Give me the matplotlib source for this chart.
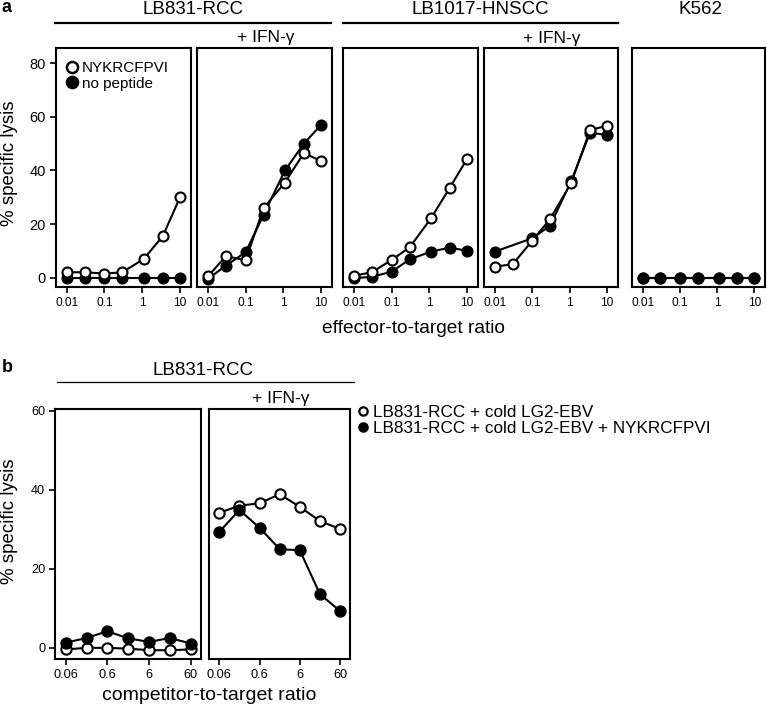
import numpy as np
import matplotlib
matplotlib.use('Agg')
import matplotlib.pyplot as plt
from matplotlib.lines import Line2D

plt.rcParams['font.family'] = ['Liberation Sans', 'DejaVu Sans']

# ---------------- data: panel a ----------------
et_ratio = [0.01, 0.03, 0.1, 0.3, 1.1, 3.5, 10]
et_ticks = [0.01, 0.1, 1, 10]
et_ticklabels = ['0.01', '0.1', '1', '10']

rcc_open = [2.0, 2.0, 1.5, 2.0, 7.0, 15.5, 30.0]
rcc_filled = [0.0, 0.0, 0.0, 0.0, 0.0, 0.0, 0.0]
rcc_ifn_open = [0.5, 8.0, 6.5, 26.0, 35.5, 46.5, 43.5]
rcc_ifn_filled = [-0.5, 4.5, 9.5, 23.5, 40.0, 50.0, 57.0]
hnscc_open = [0.7, 2.0, 6.6, 11.3, 22.1, 33.6, 44.3]
hnscc_filled = [-0.2, 0.3, 2.2, 6.8, 9.7, 11.2, 10.0]
hnscc_ifn_open = [4.1, 5.0, 13.8, 21.9, 35.4, 55.1, 56.7]
hnscc_ifn_filled = [9.7, np.nan, 14.7, 19.4, 36.1, 54.1, 53.2]
k562_open = [0.0, 0.0, 0.0, 0.0, 0.0, 0.0, 0.0]
k562_filled = [0.0, 0.0, 0.0, 0.0, 0.0, 0.0, 0.0]

a_yticks = [0, 20, 40, 60, 80]
a_labels = ['NYKRCFPVI', 'no peptide']

# ---------------- data: panel b ----------------
ct_ratio = [0.06, 0.19, 0.6, 1.9, 6, 19, 60]
ct_ticks = [0.06, 0.6, 6, 60]
ct_ticklabels = ['0.06', '0.6', '6', '60']
b_open = [-0.4, 0.0, 0.0, -0.2, -0.6, -0.6, -0.4]
b_filled = [1.3, 2.5, 4.2, 2.4, 1.5, 2.5, 1.1]
b_ifn_open = [34.2, 36.0, 36.6, 38.9, 35.7, 32.1, 30.1]
b_ifn_filled = [29.4, 34.9, 30.4, 25.0, 24.7, 13.6, 9.3]
b_yticks = [0, 20, 40, 60]
b_labels = ['LB831-RCC + cold LG2-EBV', 'LB831-RCC + cold LG2-EBV + NYKRCFPVI']

W, H = 767, 709
fig = plt.figure(figsize=(W / 100, H / 100), dpi=100)


def ax_px(x0, x1, y0, y1):
    return fig.add_axes([x0 / W, 1 - y1 / H, (x1 - x0) / W, (y1 - y0) / H])


def fx(x):
    return x / W


def fy(y):
    return 1 - y / H


LW = 1.5
MS_A = 7.2
MS_B = 7.4


def draw_series(ax, x, y, filled, ms, z):
    x = np.asarray(x, float)
    y = np.asarray(y, float)
    m = ~np.isnan(y)
    ax.plot(x[m], y[m], '-o', color='black', lw=LW, ms=ms,
            mfc='black' if filled else 'white', mec='black', mew=1.5,
            zorder=z, clip_on=False)


def style_axes(ax, ylim, xlim, xticks, xticklabels, yticks, show_y,
               xtick_fs, ytick_fs):
    ax.set_xscale('log')
    ax.set_xlim(*xlim)
    ax.set_ylim(*ylim)
    ax.set_xticks(xticks)
    ax.set_xticklabels(xticklabels, fontsize=xtick_fs)
    ax.xaxis.set_minor_locator(matplotlib.ticker.NullLocator())
    ax.tick_params(axis='x', direction='out', length=4, width=1.2, pad=3)
    if show_y:
        ax.set_yticks(yticks)
        ax.set_yticklabels([str(v) for v in yticks], fontsize=ytick_fs)
        ax.tick_params(axis='y', direction='out', length=4, width=1.2, pad=3)
    else:
        ax.set_yticks([])
    for s in ax.spines.values():
        s.set_linewidth(1.5)


# ---------------- panel a ----------------
a_boxes = [(55.7, 191), (197, 332), (343, 478), (484, 618), (632, 765)]
a_top, a_bot = 48, 287
a_ylim = (-3.5, 85.7)
a_xlim = (10 ** -2.29, 10 ** 1.29)
a_data = [(rcc_open, rcc_filled), (rcc_ifn_open, rcc_ifn_filled),
          (hnscc_open, hnscc_filled), (hnscc_ifn_open, hnscc_ifn_filled),
          (k562_open, k562_filled)]
a_axes = []
for i, ((x0, x1), (yo, yf)) in enumerate(zip(a_boxes, a_data)):
    ax = ax_px(x0, x1, a_top, a_bot)
    if i == 4:
        draw_series(ax, et_ratio, yo, False, MS_A, 3)
        draw_series(ax, et_ratio, yf, True, MS_A, 4)
    else:
        draw_series(ax, et_ratio, yf, True, MS_A, 3)
        draw_series(ax, et_ratio, yo, False, MS_A, 4)
    style_axes(ax, a_ylim, a_xlim, et_ticks, et_ticklabels, a_yticks,
               i == 0, 8.6, 10.5)
    a_axes.append(ax)

h_a = [Line2D([], [], ls='none', marker='o', ms=8, mfc='white', mec='black', mew=1.8),
       Line2D([], [], ls='none', marker='o', ms=8, mfc='black', mec='black', mew=1.8)]
a_axes[0].legend(h_a, a_labels, loc='upper left', frameon=False, fontsize=11,
                 handlelength=0.6, handletextpad=0.35, labelspacing=0.1,
                 borderaxespad=0, bbox_to_anchor=(0.04, 0.97))

# headers a
fig.text(fx(193), fy(10), 'LB831-RCC', ha='center', va='center', fontsize=13.5)
fig.text(fx(480), fy(10), 'LB1017-HNSCC', ha='center', va='center', fontsize=13.5)
fig.text(fx(700), fy(10), 'K562', ha='center', va='center', fontsize=13.5)
fig.add_artist(Line2D([fx(55), fx(331)], [fy(23.3), fy(23.3)], color='black', lw=1.6))
fig.add_artist(Line2D([fx(343), fx(618)], [fy(23.3), fy(23.3)], color='black', lw=1.6))
fig.text(fx(266), fy(37.5), '+ IFN-γ', ha='center', va='center', fontsize=12.5)
fig.text(fx(552), fy(38), '+ IFN-γ', ha='center', va='center', fontsize=12.5)
fig.text(fx(413), fy(333), 'effector-to-target ratio', ha='center', va='baseline',
         fontsize=13.8)
fig.text(fx(10), fy(163), '% specific lysis', ha='center', va='center',
         rotation=90, fontsize=13.5)
fig.text(fx(2), fy(8), 'a', ha='left', va='center', fontsize=13, fontweight='bold')

# ---------------- panel b ----------------
b_boxes = [(55, 201), (209, 350)]
b_top, b_bot = 409.3, 659.3
b_ylim = (-2.9, 60.4)
b_xlim = (10 ** -1.478, 10 ** 2.025)
b_data = [(b_open, b_filled), (b_ifn_open, b_ifn_filled)]
b_axes = []
for i, ((x0, x1), (yo, yf)) in enumerate(zip(b_boxes, b_data)):
    ax = ax_px(x0, x1, b_top, b_bot)
    draw_series(ax, ct_ratio, yo, False, MS_B, 3)
    draw_series(ax, ct_ratio, yf, True, MS_B, 4)
    style_axes(ax, b_ylim, b_xlim, ct_ticks, ct_ticklabels, b_yticks,
               i == 0, 9.2, 9.2)
    b_axes.append(ax)

h_b = [Line2D([], [], ls='none', marker='o', ms=6, mfc='white', mec='black', mew=1.6),
       Line2D([], [], ls='none', marker='o', ms=6, mfc='black', mec='black', mew=1.6)]
fig.legend(h_b, b_labels, loc='upper left', frameon=False, fontsize=12.3,
           handlelength=0.5, handletextpad=0.3, labelspacing=0.05,
           borderaxespad=0, borderpad=0,
           bbox_to_anchor=(fx(359), fy(405)))

fig.text(fx(203), fy(370.5), 'LB831-RCC', ha='center', va='center', fontsize=13.5)
fig.add_artist(Line2D([fx(57), fx(354)], [fy(381.7), fy(381.7)], color='black', lw=0.9))
fig.text(fx(281), fy(398), '+ IFN-γ', ha='center', va='center', fontsize=12.5)
fig.text(fx(209), fy(700), 'competitor-to-target ratio', ha='center', va='baseline',
         fontsize=14)
fig.text(fx(10), fy(521), '% specific lysis', ha='center', va='center',
         rotation=90, fontsize=13.5)
fig.text(fx(2), fy(367.5), 'b', ha='left', va='center', fontsize=13, fontweight='bold')

fig.savefig('out.png', dpi=100)
